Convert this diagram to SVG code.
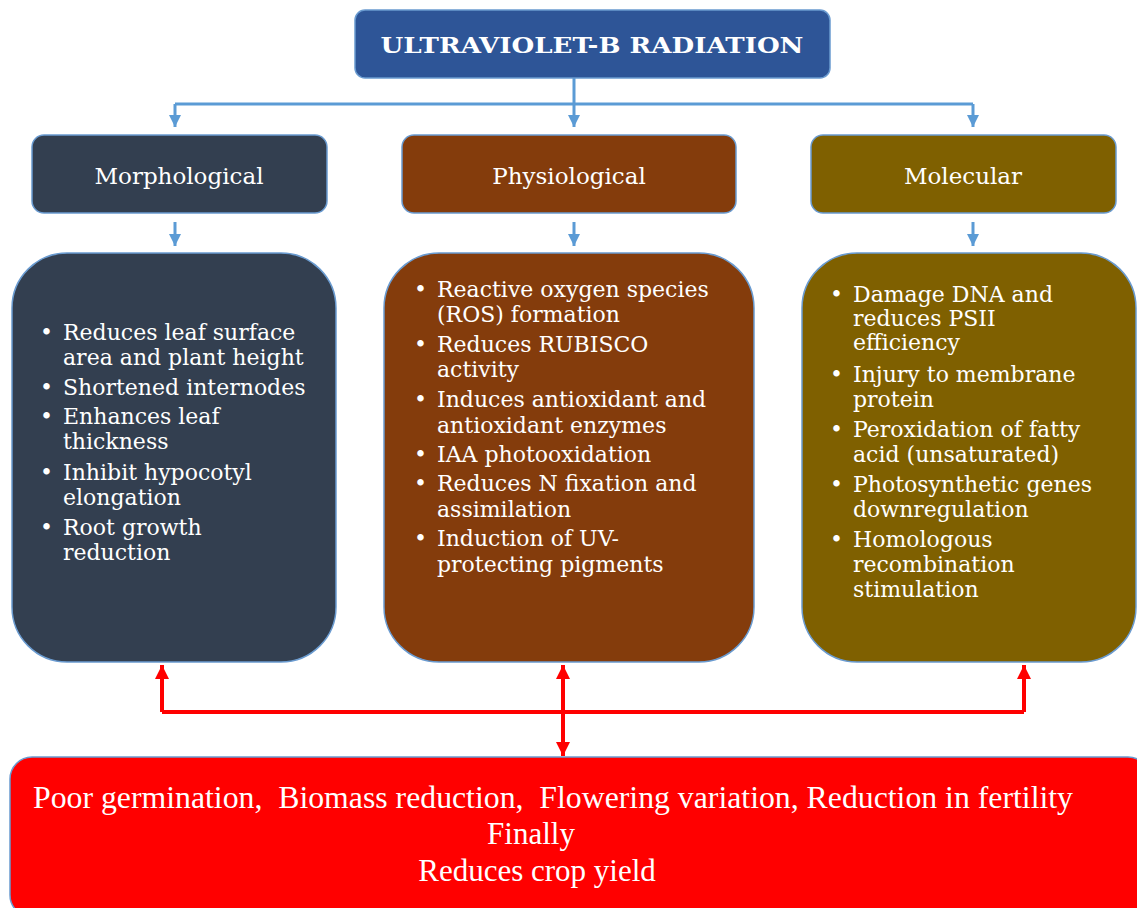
<svg xmlns="http://www.w3.org/2000/svg" width="1137" height="908" viewBox="0 0 1137 908">
<style>
.t{font-family:"DejaVu Serif","Liberation Serif",serif;fill:#fff;}
.body{font-size:22px;}
.hd{font-size:23px;text-anchor:middle;}
.ttl{font-size:22px;font-weight:bold;text-anchor:middle;}
.bot{font-family:"Liberation Serif","Times New Roman",serif;fill:#fff;font-size:31px;text-anchor:middle;}
.blue{stroke:#5B9BD5;stroke-width:3;fill:none;}
.red{stroke:#FF0000;stroke-width:4;fill:none;}
.bx{stroke:#6A9BD0;stroke-width:1.5;}
</style>
<defs>
<marker id="ab" viewBox="0 0 10 10" refX="10" refY="5" markerWidth="4" markerHeight="4" orient="auto" markerUnits="strokeWidth"><path d="M0,0 L10,5 L0,10 z" fill="#5B9BD5"/></marker>
<marker id="ar" viewBox="0 0 10 10" refX="10" refY="5" markerWidth="4" markerHeight="3.5" orient="auto" markerUnits="strokeWidth"><path d="M0,0 L10,5 L0,10 z" fill="#FF0000"/></marker>
<marker id="ars" viewBox="0 0 10 10" refX="0" refY="5" markerWidth="4" markerHeight="3.5" orient="auto" markerUnits="strokeWidth"><path d="M10,0 L0,5 L10,10 z" fill="#FF0000"/></marker>
</defs>
<rect width="1137" height="908" fill="#fff"/>

<g id="connectors">
<path class="blue" d="M574,78 V104"/>
<path class="blue" d="M175,104 H973"/>
<path class="blue" d="M175,104 V127" marker-end="url(#ab)"/>
<path class="blue" d="M574,104 V127" marker-end="url(#ab)"/>
<path class="blue" d="M973,104 V127" marker-end="url(#ab)"/>
<path class="blue" d="M175,222 V246" marker-end="url(#ab)"/>
<path class="blue" d="M574,222 V246" marker-end="url(#ab)"/>
<path class="blue" d="M973,222 V246" marker-end="url(#ab)"/>
<path class="red" d="M162,712 H1024"/>
<path class="red" d="M162,712 V665" marker-end="url(#ar)"/>
<path class="red" d="M1024,712 V665" marker-end="url(#ar)"/>
<path class="red" d="M563,665 V756" marker-start="url(#ars)" marker-end="url(#ar)"/>
</g>

<g id="uvb">
<rect class="bx" x="355" y="10" width="475" height="68" rx="10" fill="#2E5597"/>
<text class="t ttl" x="592" y="53" textLength="423" lengthAdjust="spacingAndGlyphs">ULTRAVIOLET-B RADIATION</text>
</g>

<g id="morph-head">
<rect class="bx" x="32" y="135" width="295" height="78" rx="12" fill="#333F50"/>
<text class="t hd" x="179" y="184">Morphological</text>
</g>
<g id="phys-head">
<rect class="bx" x="402" y="135" width="334" height="78" rx="12" fill="#843C0C"/>
<text class="t hd" x="569" y="184">Physiological</text>
</g>
<g id="mol-head">
<rect class="bx" x="811" y="135" width="305" height="78" rx="12" fill="#7F6000"/>
<text class="t hd" x="963" y="184">Molecular</text>
</g>

<g id="morph-body">
<rect class="bx" x="12" y="253" width="324" height="409" rx="55" fill="#333F50"/>
<g class="t body">
<text x="40" y="340">•</text><text x="63" y="340">Reduces leaf surface</text>
<text x="63" y="365">area and plant height</text>
<text x="40" y="395">•</text><text x="63" y="395">Shortened internodes</text>
<text x="40" y="424">•</text><text x="63" y="424">Enhances leaf</text>
<text x="63" y="449">thickness</text>
<text x="40" y="480">•</text><text x="63" y="480">Inhibit hypocotyl</text>
<text x="63" y="505">elongation</text>
<text x="40" y="535">•</text><text x="63" y="535">Root growth</text>
<text x="63" y="560">reduction</text>
</g>
</g>

<g id="phys-body">
<rect class="bx" x="384" y="253" width="370" height="409" rx="55" fill="#843C0C"/>
<g class="t body">
<text x="414" y="297">•</text><text x="437" y="297">Reactive oxygen species</text>
<text x="437" y="322">(ROS) formation</text>
<text x="414" y="352">•</text><text x="437" y="352">Reduces RUBISCO</text>
<text x="437" y="377">activity</text>
<text x="414" y="407">•</text><text x="437" y="407">Induces antioxidant and</text>
<text x="437" y="433">antioxidant enzymes</text>
<text x="414" y="462">•</text><text x="437" y="462">IAA photooxidation</text>
<text x="414" y="491">•</text><text x="437" y="491">Reduces N fixation and</text>
<text x="437" y="517">assimilation</text>
<text x="414" y="546">•</text><text x="437" y="546">Induction of UV-</text>
<text x="437" y="572">protecting pigments</text>
</g>
</g>

<g id="mol-body">
<rect class="bx" x="802" y="253" width="334" height="409" rx="55" fill="#7F6000"/>
<g class="t body">
<text x="830" y="302">•</text><text x="853" y="302">Damage DNA and</text>
<text x="853" y="326">reduces PSII</text>
<text x="853" y="350">efficiency</text>
<text x="830" y="382">•</text><text x="853" y="382">Injury to membrane</text>
<text x="853" y="407">protein</text>
<text x="830" y="437">•</text><text x="853" y="437">Peroxidation of fatty</text>
<text x="853" y="462">acid (unsaturated)</text>
<text x="830" y="492">•</text><text x="853" y="492">Photosynthetic genes</text>
<text x="853" y="517">downregulation</text>
<text x="830" y="547">•</text><text x="853" y="547">Homologous</text>
<text x="853" y="572">recombination</text>
<text x="853" y="597">stimulation</text>
</g>
</g>

<g id="outcome">
<rect class="bx" x="10" y="757" width="1140" height="160" rx="22" fill="#FF0000"/>
<text class="bot" x="553" y="808" textLength="1040" lengthAdjust="spacingAndGlyphs" xml:space="preserve">Poor germination,  Biomass reduction,  Flowering variation, Reduction in fertility</text>
<text class="bot" x="531" y="844">Finally</text>
<text class="bot" x="537" y="881">Reduces crop yield</text>
</g>
</svg>
